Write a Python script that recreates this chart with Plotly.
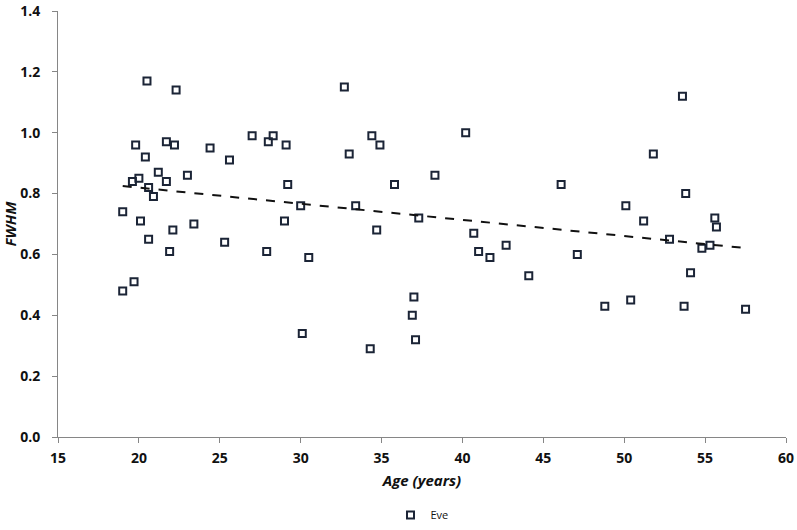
import numpy as np
import plotly.graph_objects as go

age = [20.5, 22.3, 32.7, 19.8, 21.7, 22.2, 24.4, 25.6, 27.0, 28.3, 28.0, 29.1, 33.0,
       20.4, 21.2, 23.0, 19.6, 20.0, 21.7, 29.2, 20.6, 20.9, 30.0, 19.0, 20.1, 22.1,
       23.4, 29.0, 20.6, 25.3, 21.9, 27.9, 30.5, 19.7, 19.0, 30.1,
       34.4, 34.9, 40.2, 35.8, 38.3, 46.1, 33.4, 37.3, 34.7, 40.7, 41.0, 41.7, 42.7,
       47.1, 44.1, 37.0, 36.9, 37.1, 34.3,
       53.6, 51.8, 53.8, 50.1, 51.2, 55.6, 55.7, 52.8, 54.8, 55.3, 54.1,
       48.8, 50.4, 53.7, 57.5]
fwhm = [1.17, 1.14, 1.15, 0.96, 0.97, 0.96, 0.95, 0.91, 0.99, 0.99, 0.97, 0.96, 0.93,
        0.92, 0.87, 0.86, 0.84, 0.85, 0.84, 0.83, 0.82, 0.79, 0.76, 0.74, 0.71, 0.68,
        0.70, 0.71, 0.65, 0.64, 0.61, 0.61, 0.59, 0.51, 0.48, 0.34,
        0.99, 0.96, 1.00, 0.83, 0.86, 0.83, 0.76, 0.72, 0.68, 0.67, 0.61, 0.59, 0.63,
        0.60, 0.53, 0.46, 0.40, 0.32, 0.29,
        1.12, 0.93, 0.80, 0.76, 0.71, 0.72, 0.69, 0.65, 0.62, 0.63, 0.54,
        0.43, 0.45, 0.43, 0.42]

x_ticks = [15, 20, 25, 30, 35, 40, 45, 50, 55, 60]
y_ticks = [0.0, 0.2, 0.4, 0.6, 0.8, 1.0, 1.2, 1.4]

slope, intercept = np.polyfit(age, fwhm, 1)
tx = np.array([min(age), max(age)])
ty = slope * tx + intercept

navy = "#1b2436"
axis_col = "#868686"
text_col = "#111111"

fig = go.Figure()
fig.add_trace(go.Scatter(
    x=age, y=fwhm, mode="markers", name="Eve",
    marker=dict(symbol="square-open", size=7, color=navy, line=dict(width=2, color=navy)),
))
fig.add_trace(go.Scatter(
    x=tx, y=ty, mode="lines", showlegend=False, hoverinfo="skip",
    line=dict(color=text_col, width=2, dash="dash"),
))

tick_font = dict(family="Open Sans", size=14, color=text_col, weight="bold")
title_font = dict(family="Open Sans", size=15, color=text_col, weight="bold", style="italic")
fig.update_layout(
    width=797, height=530,
    margin=dict(l=58, r=11, t=11, b=93, autoexpand=False),
    paper_bgcolor="white", plot_bgcolor="white",
    legend=dict(orientation="h", x=0.5, xanchor="center", y=-0.183, yanchor="middle",
                font=dict(family="Open Sans", size=11, color=text_col),
                itemwidth=30, tracegroupgap=0),
)
fig.update_xaxes(
    range=[15, 60], tickvals=x_ticks, ticks="outside", ticklen=5, tickcolor=axis_col,
    showline=True, linecolor=axis_col, linewidth=1, showgrid=False, zeroline=False,
    tickfont=tick_font, automargin=False, ticklabelstandoff=3,
    title=dict(text="Age (years)", font=title_font, standoff=9),
)
fig.update_yaxes(
    range=[0, 1.4], tickvals=y_ticks, tickformat=".1f", ticks="outside", ticklen=5, tickcolor=axis_col,
    showline=True, linecolor=axis_col, linewidth=1, showgrid=False, zeroline=False,
    tickfont=tick_font, automargin=False, ticklabelstandoff=9,
    title=dict(text="FWHM", font=title_font, standoff=3),
)

fig.write_html(
    "out.html",
    config={"displayModeBar": False},
    post_script="document.body.style.margin='0';document.body.style.overflow='hidden';",
)
